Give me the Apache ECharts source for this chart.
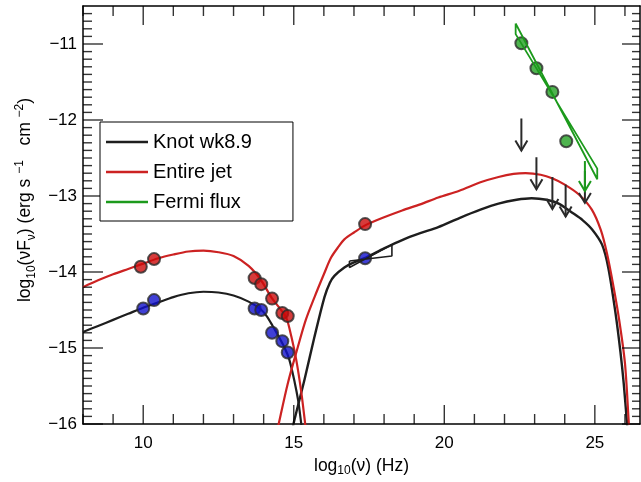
<!DOCTYPE html>
<html>
<head>
<meta charset="utf-8">
<script src="https://cdn.jsdelivr.net/npm/echarts@6/dist/echarts.min.js"></script>
<style>
html,body{margin:0;padding:0;background:#fff;}
#chart{width:641px;height:482px;background:#fff;}
</style>
</head>
<body>
<div id="chart"></div>
<script>
// ---- axis ranges / ticks / tick labels ----
const X_MIN = 8, X_MAX = 26.5;
const Y_MIN = -16, Y_MAX = -10.5;
const X_MAJOR = [10, 15, 20, 25];
const Y_MAJOR = [-16, -15, -14, -13, -12, -11];
const X_MINOR = [8, 9, 11, 12, 13, 14, 16, 17, 18, 19, 21, 22, 23, 24, 26];
const Y_MINOR = [-15.9, -15.8, -15.7, -15.6, -15.5, -15.4, -15.3, -15.2, -15.1,
  -14.9, -14.8, -14.7, -14.6, -14.5, -14.4, -14.3, -14.2, -14.1,
  -13.9, -13.8, -13.7, -13.6, -13.5, -13.4, -13.3, -13.2, -13.1,
  -12.9, -12.8, -12.7, -12.6, -12.5, -12.4, -12.3, -12.2, -12.1,
  -11.9, -11.8, -11.7, -11.6, -11.5, -11.4, -11.3, -11.2, -11.1,
  -10.9, -10.8, -10.7, -10.6];

// ---- model curves (log10 nu, log10 nuFnu) ----
const knotSync = [[8.0,-14.79],[8.5,-14.71],[9.0,-14.63],[9.5,-14.55],[10.0,-14.47],[10.5,-14.40],[11.0,-14.33],[11.5,-14.28],[12.0,-14.26],[12.5,-14.27],[13.0,-14.31],[13.5,-14.39],[13.9,-14.49],[14.1,-14.58],[14.3,-14.71],[14.5,-14.85],[14.7,-15.0],[14.85,-15.15],[15.03,-15.45],[15.15,-15.7],[15.25,-16.0],[15.3,-16.15]];
const knotIC = [[14.95,-16.1],[14.99,-16.0],[15.36,-15.41],[15.69,-14.85],[16.02,-14.33],[16.2,-14.14],[16.35,-14.05],[16.68,-13.94],[16.96,-13.88],[17.4,-13.81],[18.0,-13.69],[18.6,-13.58],[19.2,-13.49],[19.8,-13.41],[20.5,-13.29],[21.2,-13.18],[21.8,-13.10],[22.4,-13.05],[22.9,-13.03],[23.4,-13.05],[23.8,-13.10],[24.25,-13.22],[24.6,-13.32],[24.91,-13.44],[25.24,-13.64],[25.45,-13.95],[25.69,-14.55],[25.85,-15.05],[25.96,-15.47],[26.07,-16.0],[26.1,-16.15]];
const entireSync = [[8.0,-14.20],[8.5,-14.11],[9.0,-14.03],[9.5,-13.96],[10.0,-13.89],[10.5,-13.82],[11.0,-13.77],[11.5,-13.73],[12.0,-13.72],[12.5,-13.74],[13.0,-13.79],[13.5,-13.92],[13.9,-14.10],[14.25,-14.33],[14.5,-14.46],[14.75,-14.60],[14.92,-14.85],[15.08,-15.15],[15.25,-15.58],[15.38,-16.0],[15.43,-16.15]];
const entireIC = [[14.45,-16.1],[14.5,-16.0],[14.8,-15.47],[15.14,-14.98],[15.4,-14.63],[15.69,-14.33],[16.0,-14.03],[16.24,-13.81],[16.5,-13.66],[16.68,-13.57],[17.0,-13.48],[17.4,-13.38],[18.0,-13.28],[18.6,-13.19],[19.2,-13.11],[19.8,-13.02],[20.5,-12.93],[21.2,-12.82],[21.8,-12.75],[22.3,-12.71],[22.7,-12.70],[23.2,-12.72],[23.6,-12.77],[24.0,-12.85],[24.47,-12.98],[24.9,-13.18],[25.2,-13.45],[25.4,-13.75],[25.6,-14.15],[25.8,-14.61],[26.0,-15.2],[26.13,-16.0],[26.16,-16.15]];

// ---- bowties ----
const xrayBowtie = [[16.85,-13.855],[18.26,-13.79],[18.26,-13.64],[16.85,-13.94],[16.85,-13.855]];
const fermiBowtie = [[22.37,-10.73],[25.08,-12.78],[25.08,-12.64],[22.37,-10.87],[22.37,-10.73]];

// ---- data points ----
const entirePts = [[9.92,-13.93],[10.36,-13.83],[13.70,-14.08],[13.92,-14.16],[14.28,-14.35],[14.62,-14.54],[14.80,-14.58],[17.37,-13.37]];
const knotPts = [[10.0,-14.48],[10.36,-14.37],[13.70,-14.48],[13.92,-14.50],[14.28,-14.80],[14.62,-14.91],[14.80,-15.06],[17.37,-13.82]];
const fermiPts = [[22.56,-10.99],[23.06,-11.32],[23.59,-11.63],[24.05,-12.28]];
const knotUL = [[22.56,-11.98],[23.06,-12.49],[23.59,-12.75],[24.03,-12.85],[24.67,-12.67]];
const fermiUL = [[24.67,-12.54]];

const FONT = 'Liberation Sans, Arial, Helvetica, sans-serif';
const BLACK = '#1e1e1e', RED = '#cc2222', GREEN = '#1c9a1c';

function arrowRender(color, len) {
  return function (params, api) {
    const p = api.coord([api.value(0), api.value(1)]);
    const hw = 6, hh = 10;
    return {
      type: 'group',
      children: [
        {type: 'line', shape: {x1: p[0], y1: p[1], x2: p[0], y2: p[1] + len}, style: {stroke: color, lineWidth: 2}},
        {type: 'polyline', shape: {points: [[p[0] - hw, p[1] + len - hh], [p[0], p[1] + len], [p[0] + hw, p[1] + len - hh]]}, style: {stroke: color, lineWidth: 2, fill: null}}
      ]
    };
  };
}

// frame ticks drawn as thin rect symbols anchored on the frame through the axis scales
const tickSeries = (name, data, size, offset) => ({name, type: 'scatter', data, symbol: 'rect',
  symbolSize: size, symbolOffset: offset, itemStyle: {color: '#000', borderWidth: 0},
  clip: false, silent: true, z: 10, emphasis: {disabled: true}});

const axisLineStyle = {show: true, onZero: false, lineStyle: {color: '#000', width: 1.5}};
const ptStyle = c => ({color: c, borderColor: '#2a2a2a', borderWidth: 2});
const lineSeries = (name, data, color, w) => ({name, type: 'line', data, symbol: 'none', smooth: 0.3,
  lineStyle: {color, width: w}, itemStyle: {color}, z: 3});

const option = {
  animation: false,
  textStyle: {fontFamily: FONT},
  grid: {show: false, left: 83, top: 6, right: 1, bottom: 51},
  xAxis: [
    {type: 'value', position: 'bottom', min: X_MIN, max: X_MAX, interval: 1,
      axisLine: axisLineStyle, axisTick: {show: false}, splitLine: {show: false},
      axisLabel: {show: true, customValues: X_MAJOR, fontSize: 17, color: '#000', fontFamily: FONT, margin: 11},
      name: '{a|log}{s|10}{a|(ν) (Hz)}', nameLocation: 'middle', nameGap: 31,
      nameTextStyle: {fontFamily: FONT, color: '#000', rich: {
        a: {fontSize: 17.5, fontFamily: FONT, color: '#000', lineHeight: 22},
        s: {fontSize: 12, fontFamily: FONT, color: '#000', lineHeight: 12, verticalAlign: 'bottom'}
      }}},
    {type: 'value', position: 'top', min: X_MIN, max: X_MAX, interval: 1,
      axisLine: axisLineStyle, axisTick: {show: false}, splitLine: {show: false}, axisLabel: {show: false}}
  ],
  yAxis: [
    {type: 'value', position: 'left', min: Y_MIN, max: Y_MAX, interval: 0.5,
      axisLine: axisLineStyle, axisTick: {show: false}, splitLine: {show: false},
      axisLabel: {show: true, customValues: Y_MAJOR, fontSize: 17, color: '#000', fontFamily: FONT, margin: 6,
        formatter: v => '\u2212' + Math.abs(Math.round(v))},
      name: '{a|log}{s|10}{a|(νF}{s|ν}{a|) (erg s }{p|−1}{a|   cm }{p|−2}{a|)}',
      nameLocation: 'middle', nameGap: 43, nameRotate: 90,
      nameTextStyle: {fontFamily: FONT, color: '#000', padding: [0, 0, 0, 30], rich: {
        a: {fontSize: 17.5, fontFamily: FONT, color: '#000', lineHeight: 24},
        s: {fontSize: 12, fontFamily: FONT, color: '#000', lineHeight: 12, verticalAlign: 'bottom'},
        p: {fontSize: 12, fontFamily: FONT, color: '#000', lineHeight: 12, verticalAlign: 'top'}
      }}},
    {type: 'value', position: 'right', min: Y_MIN, max: Y_MAX, interval: 0.5,
      axisLine: axisLineStyle, axisTick: {show: false}, splitLine: {show: false}, axisLabel: {show: false}}
  ],
  legend: {
    orient: 'vertical', left: 100, top: 122, z: 20,
    itemWidth: 42, itemHeight: 2.5, itemGap: 10,
    padding: [10, 41, 9, 6],
    borderColor: '#000', borderWidth: 1, borderRadius: 0, backgroundColor: '#fff',
    textStyle: {fontSize: 20, color: '#000', fontFamily: FONT, lineHeight: 20},
    icon: 'rect',
    data: [
      {name: 'Knot wk8.9', itemStyle: {color: BLACK}},
      {name: 'Entire jet', itemStyle: {color: RED}},
      {name: 'Fermi flux', itemStyle: {color: GREEN}}
    ]
  },
  series: [
    tickSeries('bottom minor ticks', X_MINOR.map(v => [v, Y_MIN]), [1.4, 10], [0, -5]),
    tickSeries('top minor ticks', X_MINOR.map(v => [v, Y_MAX]), [1.4, 10], [0, 5]),
    tickSeries('bottom major ticks', X_MAJOR.map(v => [v, Y_MIN]), [1.4, 19], [0, -9.5]),
    tickSeries('top major ticks', X_MAJOR.map(v => [v, Y_MAX]), [1.4, 19], [0, 9.5]),
    tickSeries('left minor ticks', Y_MINOR.map(v => [X_MIN, v]), [9, 1.4], [4.5, 0]),
    tickSeries('right minor ticks', Y_MINOR.map(v => [X_MAX, v]), [8, 1.4], [-4, 0]),
    tickSeries('left major ticks', Y_MAJOR.map(v => [X_MIN, v]), [20, 1.4], [10, 0]),
    tickSeries('right major ticks', Y_MAJOR.map(v => [X_MAX, v]), [18, 1.4], [-9, 0]),
    lineSeries('Knot wk8.9', knotSync, BLACK, 2.2),
    lineSeries('Knot wk8.9', knotIC, BLACK, 2.4),
    lineSeries('Entire jet', entireSync, RED, 2.2),
    lineSeries('Entire jet', entireIC, RED, 2.2),
    {name: 'Entire jet points', type: 'scatter', data: entirePts, symbolSize: 12, itemStyle: ptStyle('#cc0a0a'), z: 4},
    {name: 'Knot points', type: 'scatter', data: knotPts, symbolSize: 12, itemStyle: ptStyle('#1010cc'), z: 4},
    {name: 'Fermi points', type: 'scatter', data: fermiPts, symbolSize: 12, itemStyle: ptStyle('#22a022'), z: 4},
    {name: 'X-ray bowtie', type: 'line', data: xrayBowtie, symbol: 'none', lineStyle: {color: BLACK, width: 1.6}, z: 5},
    {name: 'Fermi flux', type: 'line', data: fermiBowtie, symbol: 'none', lineStyle: {color: GREEN, width: 1.8}, itemStyle: {color: GREEN}, z: 5},
    {name: 'Knot limits', type: 'custom', data: knotUL, renderItem: arrowRender('#2a2a2a', 32), encode: {x: 0, y: 1}, z: 6},
    {name: 'Fermi limits', type: 'custom', data: fermiUL, renderItem: arrowRender(GREEN, 30), encode: {x: 0, y: 1}, z: 7}
  ]
};

const chart = echarts.init(document.getElementById('chart'), null, {renderer: 'canvas'});
chart.setOption(option);
</script>
</body>
</html>
